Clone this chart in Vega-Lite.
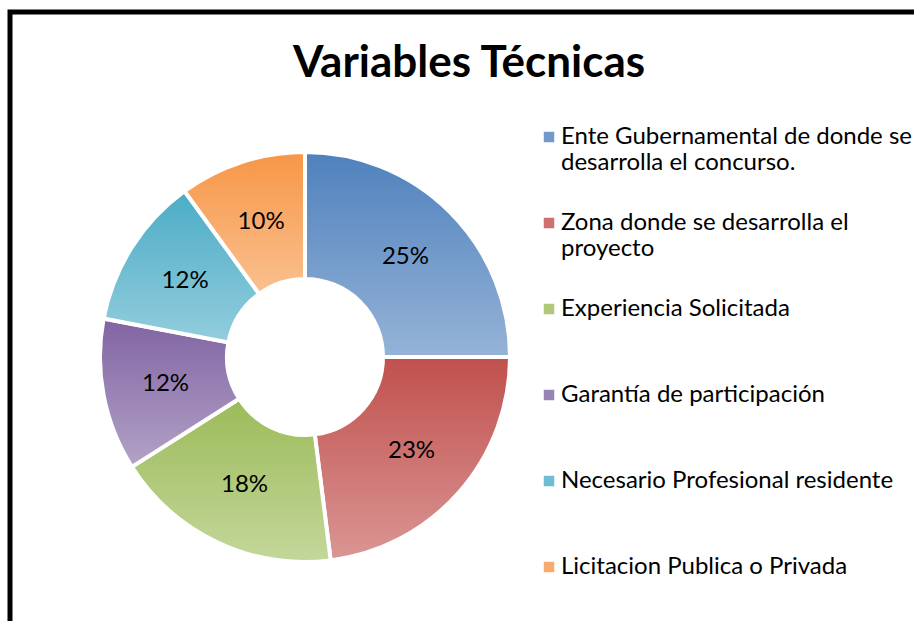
{
  "$schema": "https://vega.github.io/schema/vega-lite/v6.json",
  "width": 904,
  "height": 609,
  "autosize": {"type": "none"},
  "padding": {"left": 10, "top": 12, "right": 0, "bottom": 0},
  "background": "white",
  "view": {"stroke": "black", "strokeWidth": 5, "strokeDash": [904, 1513, 609], "strokeCap": "square"},
  "config": {
    "font": "Lato"
  },
  "title": {
    "text": "Variables Técnicas",
    "font": "Lato",
    "fontSize": 44,
    "fontWeight": "bold",
    "color": "black",
    "anchor": "middle",
    "baseline": "alphabetic",
    "offset": -109,
    "dx": 7
  },
  "data": {
    "values": [
      {"categoria": "Ente Gubernamental de donde se desarrolla el concurso.", "share": 0.25, "orden": 1},
      {"categoria": "Zona donde se desarrolla el proyecto", "share": 0.23, "orden": 2},
      {"categoria": "Experiencia Solicitada", "share": 0.18, "orden": 3},
      {"categoria": "Garantía de participación", "share": 0.12, "orden": 4},
      {"categoria": "Necesario Profesional residente", "share": 0.12, "orden": 5},
      {"categoria": "Licitacion Publica o Privada", "share": 0.10, "orden": 6}
    ]
  },
  "layer": [
    {
      "mark": {"type": "arc", "x": 295, "y": 345, "outerRadius": 205, "innerRadius": 78, "stroke": "white", "strokeWidth": 4},
      "encoding": {
        "theta": {"field": "share", "type": "quantitative", "stack": true},
        "order": {"field": "orden", "type": "quantitative"},
        "fill": {
          "field": "categoria",
          "type": "nominal",
          "scale": {
            "domain": [
              "Ente Gubernamental de donde se desarrolla el concurso.",
              "Zona donde se desarrolla el proyecto",
              "Experiencia Solicitada",
              "Garantía de participación",
              "Necesario Profesional residente",
              "Licitacion Publica o Privada"
            ],
            "range": ["#7299CA", "#CD716F", "#AEC979", "#9983B4", "#6FBDD2", "#F8AB6B"]
          },
          "condition": [
            {"test": "datum.orden == 1", "value": {"gradient": "linear", "x1": 0, "y1": 0, "x2": 0, "y2": 1, "stops": [{"offset": 0, "color": "#4F81BD"}, {"offset": 1, "color": "#95B3D7"}]}},
            {"test": "datum.orden == 2", "value": {"gradient": "linear", "x1": 0, "y1": 0, "x2": 0, "y2": 1, "stops": [{"offset": 0, "color": "#C0504D"}, {"offset": 1, "color": "#DA9694"}]}},
            {"test": "datum.orden == 3", "value": {"gradient": "linear", "x1": 0, "y1": 0, "x2": 0, "y2": 1, "stops": [{"offset": 0, "color": "#9BBB59"}, {"offset": 1, "color": "#C4D79B"}]}},
            {"test": "datum.orden == 4", "value": {"gradient": "linear", "x1": 0, "y1": 0, "x2": 0, "y2": 1, "stops": [{"offset": 0, "color": "#8064A2"}, {"offset": 1, "color": "#B3A2C7"}]}},
            {"test": "datum.orden == 5", "value": {"gradient": "linear", "x1": 0, "y1": 0, "x2": 0, "y2": 1, "stops": [{"offset": 0, "color": "#4BACC6"}, {"offset": 1, "color": "#93CDDD"}]}},
            {"test": "datum.orden == 6", "value": {"gradient": "linear", "x1": 0, "y1": 0, "x2": 0, "y2": 1, "stops": [{"offset": 0, "color": "#F79646"}, {"offset": 1, "color": "#FAC090"}]}}
          ],
          "legend": {
            "orient": "none",
            "legendX": 527,
            "legendY": 113,
            "title": null,
            "symbolType": "square",
            "symbolSize": 110,
            "symbolStrokeWidth": 0,
            "labelFont": "Lato",
            "labelFontSize": 24,
            "labelColor": "black",
            "labelLimit": 600,
            "labelOffset": 0,
            "labelBaseline": "middle",
            "rowPadding": 36,
            "labelExpr": "datum.label == 'Ente Gubernamental de donde se desarrolla el concurso.' ? ['Ente Gubernamental de donde se', 'desarrolla el concurso.'] : datum.label == 'Zona donde se desarrolla el proyecto' ? ['Zona donde se desarrolla el', 'proyecto'] : [datum.label, '']"
          }
        }
      }
    },
    {
      "mark": {"type": "text", "x": 295, "y": 345, "radius": 142, "font": "Lato", "fontSize": 24, "color": "black"},
      "encoding": {
        "theta": {"field": "share", "type": "quantitative", "stack": true},
        "order": {"field": "orden", "type": "quantitative"},
        "text": {"field": "share", "type": "quantitative", "format": ".0%"}
      }
    }
  ]
}
